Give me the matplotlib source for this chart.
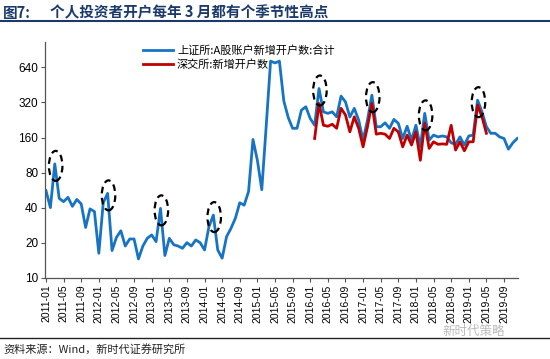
import numpy as np
import pandas as pd
import matplotlib
matplotlib.use("Agg")
import matplotlib.pyplot as plt
from matplotlib.patches import Ellipse
from matplotlib.transforms import ScaledTranslation

CJK = ["Noto Sans CJK SC", "DejaVu Sans"]
plt.rcParams["font.family"] = ["Liberation Sans", "Noto Sans CJK SC"]

# months 2011-01 .. 2019-12
months = [p.strftime("%Y-%m") for p in pd.period_range("2011-01", "2019-12", freq="M")]

# 上证所: A股账户新增开户数: 合计 (万户)
sse = [56, 40, 95, 48, 45, 49, 41, 47, 43, 27, 39, 37,
       16.2, 44, 53, 17.1, 22.2, 25.3, 18.7, 21.5, 21.5, 14.5, 18.7, 21.8,
       23.3, 20.4, 39.4, 15.5, 21.8, 19.2, 18.7, 17.9, 20.0, 18.7, 21.1, 20.0,
       17.3, 27.4, 34.5, 17.3, 14.7, 22.5, 26.5, 32.4, 44, 42, 55, 154,
       102, 57, 200, 725, 700, 725, 330, 238, 192, 192, 275, 294,
       233, 204, 422, 266, 258, 266, 241, 363, 324, 240, 285, 226,
       152, 226, 370, 198, 198, 214, 192, 229, 212, 157, 200, 152,
       204, 133, 258, 152, 168, 162, 165, 162, 144, 140, 162, 138,
       165, 168, 335, 266, 198, 174, 174, 162, 157, 127, 144, 157]

# 深交所: 新增开户数, 2016-02 .. 2019-05
szse_start = "2016-02"
szse = [157, 314, 204, 200, 208, 192, 285, 250, 179, 241, 192,
        133, 198, 314, 171, 174, 171, 157, 192, 179, 133, 168, 138,
        179, 102, 212, 129, 147, 140, 141, 140, 204, 125, 147, 123,
        147, 147, 304, 241, 174]

# March peaks that get circled
peak_months = ["2011-03", "2012-03", "2013-03", "2014-03",
               "2016-03", "2017-03", "2018-03", "2019-03"]

yticks = [10, 20, 40, 80, 160, 320, 640]

x = np.arange(len(months))
i0 = months.index(szse_start)
x_sz = np.arange(i0, i0 + len(szse))

fig = plt.figure(figsize=(5.5, 3.59), dpi=100)
ax = fig.add_axes([0.082, 0.2265, 0.86, 0.656])

ax.plot(x, sse, color="#1774C4", lw=2.0, label="上证所:A股账户新增开户数:合计", zorder=2)
ax.plot(x_sz, szse, color="#C00000", lw=2.0, label="深交所:新增开户数", zorder=3)

ax.set_yscale("log", base=2)
ax.set_ylim(10, 1055)
ax.set_yticks(yticks)
ax.set_yticklabels([str(v) for v in yticks], fontsize=8.5)
ax.minorticks_off()
ax.set_xlim(-0.2, 107.2)
ax.set_xticks(x[::4])
ax.set_xticklabels(months[::4], rotation=90, fontsize=7.5)
ax.tick_params(axis="both", length=3, width=0.8, color="#555555", pad=2)

for s in ["top", "right"]:
    ax.spines[s].set_visible(False)
for s in ["left", "bottom"]:
    ax.spines[s].set_color("#555555")
    ax.spines[s].set_linewidth(0.9)

# dashed ellipses round the March peaks
for m in peak_months:
    i = months.index(m)
    tr = fig.dpi_scale_trans + ScaledTranslation(i + 0.2, sse[i], ax.transData)
    ax.add_patch(Ellipse((0, -0.02), 0.135, 0.30, transform=tr, fill=False,
                         ec="black", lw=1.6, ls=(0, (3, 2)), zorder=5, clip_on=False))

leg = ax.legend(loc="upper left", bbox_to_anchor=(0.185, 1.03), frameon=False,
                handlelength=2.7, handletextpad=0.4, labelspacing=0.35,
                prop={"family": CJK, "size": 8})

# title, rules, source
fig.text(0.006, 0.965, "图7:", fontsize=10.5, fontweight="bold", color="#1B3A6B",
         family=CJK, va="center")
fig.text(0.09, 0.965, "个人投资者开户每年 3 月都有个季节性高点", fontsize=10.5,
         fontweight="bold", color="#1B3A6B", family=CJK, va="center")
fig.add_artist(plt.Line2D([0, 1], [0.942, 0.942], color="#1B3A6B", lw=1.5))
fig.add_artist(plt.Line2D([0, 1], [0.059, 0.059], color="#222222", lw=1.0))
fig.text(0.006, 0.028, "资料来源：Wind，新时代证券研究所", fontsize=8, family=CJK,
         va="center", color="#222222")
fig.text(0.805, 0.078, "新时代策略", fontsize=9, family=CJK, color="#BBBBBB",
         va="center")

fig.savefig("out.png", dpi=100)
